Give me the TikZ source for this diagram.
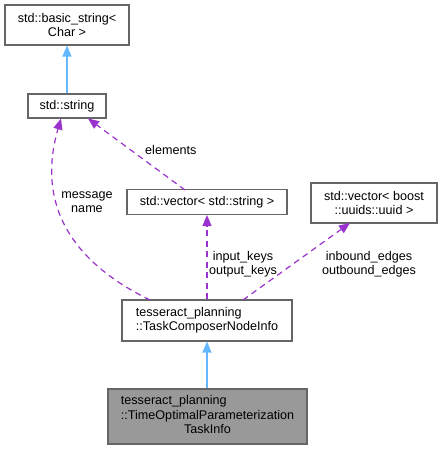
\documentclass[tikz,border=0pt]{standalone}
\usepackage{fontspec}
\setmainfont{Liberation Sans}
\usetikzlibrary{arrows.meta}
\definecolor{boxline}{HTML}{666666}
\definecolor{inh}{HTML}{63B8FF}
\definecolor{usage}{HTML}{9A32CD}
\definecolor{cur}{HTML}{999999}
\begin{document}
\begin{tikzpicture}[x=1pt,y=-1pt,
  every node/.style={font=\fontsize{12.6}{14.5}\selectfont, inner sep=0pt},
  cls/.style={draw=boxline, line width=1.1pt, fill=white, rectangle},
  inhedge/.style={draw=inh, line width=1.2pt, -{Triangle[length=11pt,width=9pt]}},
  useedge/.style={draw=usage, line width=1.2pt, dash pattern=on 6pt off 4.5pt, -{Triangle[length=11pt,width=9pt]}},
  lbl/.style={align=center}]
\useasboundingbox (0,0) rectangle (442,449);
\node[cls, minimum width=124pt, minimum height=40pt, align=center] (bs) at (67,25) {std::basic\_string<\\Char >};
\node[cls, minimum width=78pt, minimum height=24pt] (str) at (67,106) {std::string};
\node[cls, minimum width=160pt, minimum height=25pt] (vs) at (207,202) {std::vector< std::string >};
\node[cls, minimum width=126pt, minimum height=40pt, align=center] (vu) at (374,203) {std::vector< boost\\::uuids::uuid >};
\node[cls, minimum width=170pt, minimum height=41pt] (tc) at (207,320.5) {\begin{tabular}{@{}l@{}}tesseract\_planning\\::TaskComposerNodeInfo\end{tabular}};
\node[cls, fill=cur, minimum width=199pt, minimum height=55pt] (to) at (207.5,416.5) {\begin{tabular}{@{}l@{}}tesseract\_planning\\::TimeOptimalParameterization\\\multicolumn{1}{@{}c@{}}{TaskInfo}\end{tabular}};

\coordinate (tcA) at (150,300);
\coordinate (strA) at (61,118.5);
\coordinate (vsA) at (185,190);
\coordinate (strB) at (88,118.5);
\coordinate (tcB) at (243,300);
\coordinate (vuA) at (350,223);

\draw[inhedge] (str.north) -- (bs.south);
\draw[inhedge] (to.north -| tc.south) -- (tc.south);
\draw[useedge] (tcA) .. controls (72,262) and (36,205) .. (strA);
\draw[useedge] (vsA) -- (strB);
\draw[useedge] (tc.north) -- (vs.south);
\draw[useedge] (tcB) -- (vuA);

\node[lbl] (l1) at (87,202) {message\\name};
\node[lbl, anchor=west] (l2) at (145,150) {elements};
\node[lbl] (l3) at (243,264) {input\_keys\\output\_keys};
\node[lbl] (l4) at (369,264) {inbound\_edges\\outbound\_edges};
\end{tikzpicture}
\end{document}
